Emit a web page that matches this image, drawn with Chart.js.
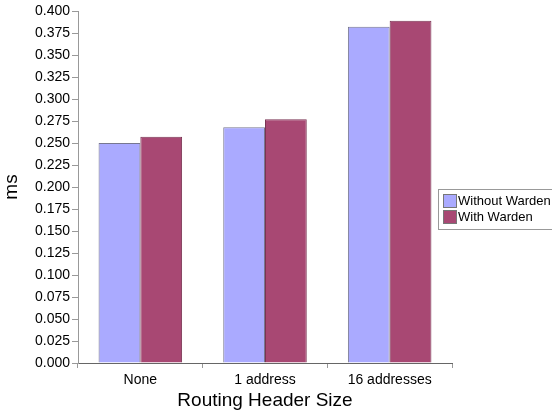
<!DOCTYPE html>
<html><head><meta charset="utf-8">
<script src="https://cdn.jsdelivr.net/npm/chart.js@4/dist/chart.umd.min.js"></script>
<style>html,body{margin:0;padding:0;background:#fff}#wrap{width:552px;height:416px}</style>
</head><body><div id="wrap"><canvas id="c" width="552" height="416"></canvas></div>
<script>
const categories = ["None", "1 address", "16 addresses"];
const withoutWarden = [0.250, 0.268, 0.382];
const withWarden = [0.257, 0.277, 0.389];
const seriesNames = ["Without Warden", "With Warden"];
const FONT = "'Liberation Sans', Arial, sans-serif";

const legendPlugin = {
  id: 'boxLegend',
  afterDraw(chart) {
    const ctx = chart.ctx;
    const x = 438, y = 189, w = 120, h = 40;
    ctx.save();
    ctx.fillStyle = '#fff';
    ctx.fillRect(x, y, w, h);
    ctx.strokeStyle = '#999';
    ctx.lineWidth = 1;
    ctx.strokeRect(x + 0.5, y + 0.5, w, h);
    ctx.font = '13px ' + FONT;
    ctx.textBaseline = 'middle';
    chart.data.datasets.forEach((ds, i) => {
      const yy = y + 5 + i * 16;
      ctx.fillStyle = ds.backgroundColor;
      ctx.fillRect(x + 5, yy, 14, 14);
      ctx.strokeStyle = '#777';
      ctx.strokeRect(x + 5.5, yy + 0.5, 13, 13);
      ctx.fillStyle = '#000';
      ctx.fillText(ds.label, x + 20, yy + 7.5);
    });
    ctx.restore();
  }
};

new Chart(document.getElementById('c'), {
  type: 'bar',
  data: {
    labels: categories,
    datasets: [
      { label: seriesNames[0], data: withoutWarden, backgroundColor: '#aaaaff', borderColor: '#777790', borderWidth: 1 },
      { label: seriesNames[1], data: withWarden, backgroundColor: '#a84873', borderColor: '#7a3453', borderWidth: 1 }
    ]
  },
  options: {
    responsive: false,
    animation: false,
    devicePixelRatio: 1,
    layout: { padding: { top: 11, right: 100, left: 0, bottom: 0 } },
    datasets: { bar: { categoryPercentage: 0.67, barPercentage: 1.0 } },
    plugins: { legend: { display: false }, tooltip: { enabled: false } },
    scales: {
      x: {
        grid: { offset: true, drawOnChartArea: false, drawTicks: true, tickLength: 5, color: '#999' },
        border: { color: '#666', width: 1 },
        ticks: { color: '#000', font: { family: FONT, size: 14 }, padding: 4 },
        title: { display: true, text: 'Routing Header Size', color: '#000', font: { family: FONT, size: 19 }, padding: { top: 2 } },
        afterFit(s) { s.height = 53; }
      },
      y: {
        min: 0, max: 0.4,
        grid: { drawOnChartArea: false, drawTicks: true, tickLength: 6, color: '#999' },
        border: { color: '#999', width: 1 },
        ticks: { stepSize: 0.025, color: '#000', font: { family: FONT, size: 14 }, padding: 2,
          callback: v => v.toFixed(3) },
        title: { display: true, text: 'ms', color: '#000', font: { family: FONT, size: 19 }, padding: { top: 0, bottom: 0 } },
        afterFit(s) { s.width = 78; }
      }
    }
  },
  plugins: [legendPlugin]
});
</script></body></html>
